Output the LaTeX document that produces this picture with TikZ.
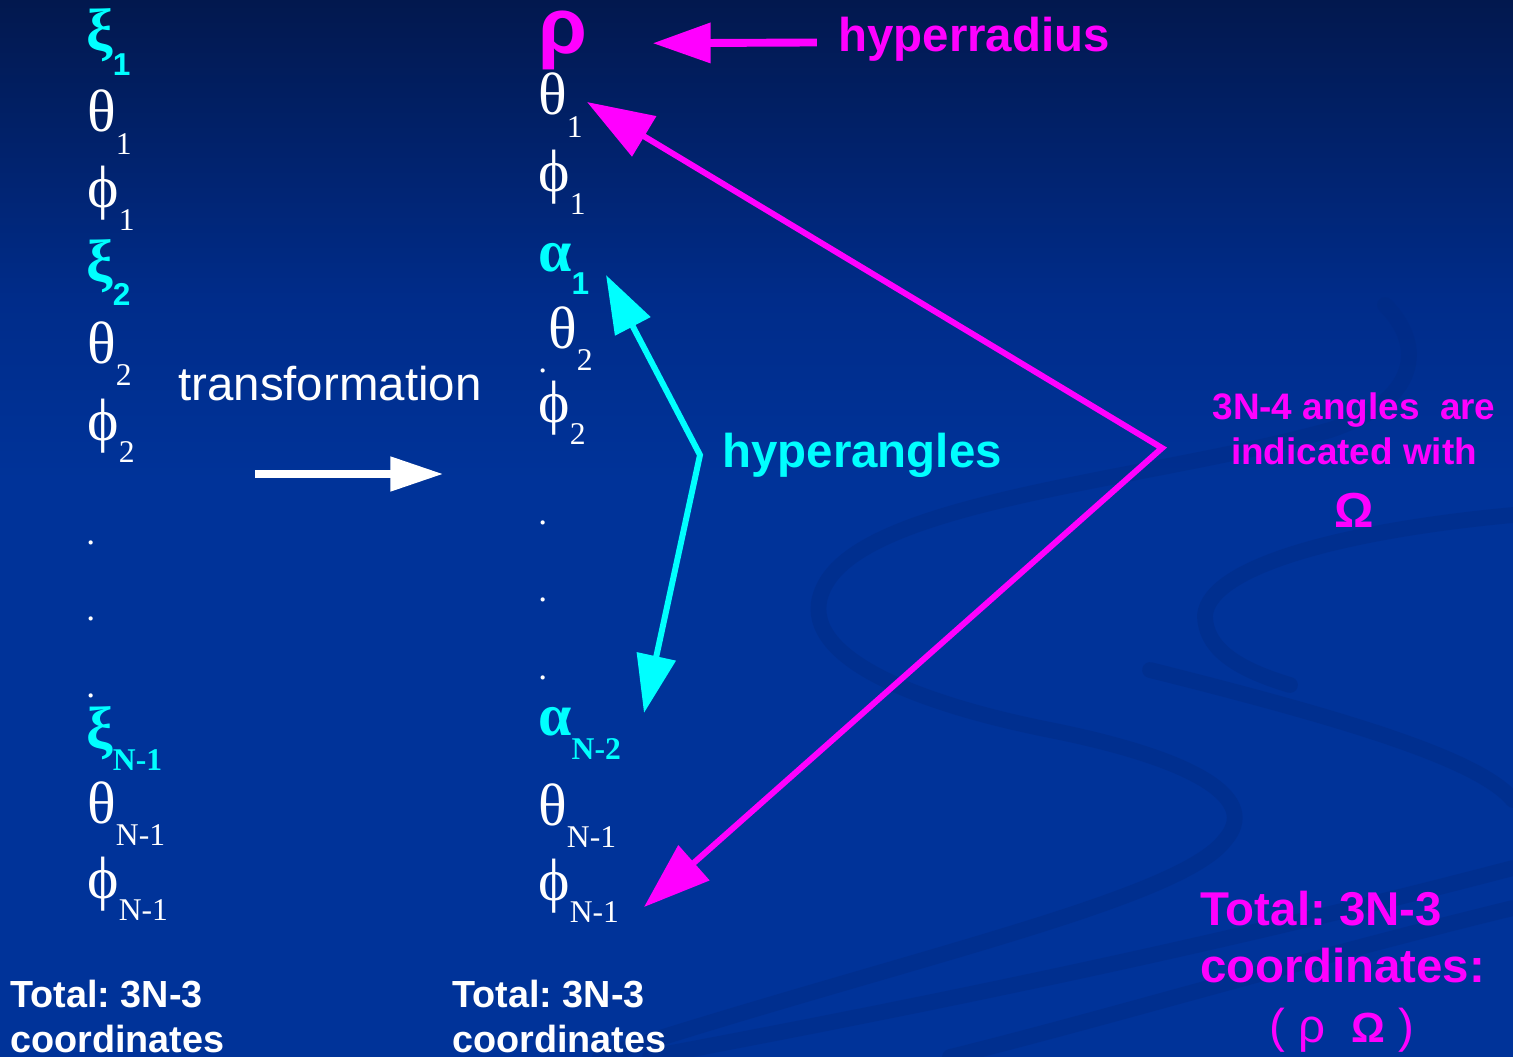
\documentclass[tikz,border=0pt]{standalone}
\usepackage{fontspec}
\setmainfont{Liberation Serif}
\setsansfont{Liberation Sans}
\usepackage{xcolor}
\usepackage{tikz}
\usetikzlibrary{arrows.meta}

\definecolor{bgtop}{RGB}{2,24,78}
\definecolor{bgmid}{RGB}{0,44,138}
\definecolor{bgmain}{RGB}{0,51,153}
\definecolor{swirl}{RGB}{0,42,130}
\definecolor{hicyan}{RGB}{0,255,255}
\definecolor{hipink}{RGB}{255,0,255}

\newcommand{\gsize}{\fontsize{34}{34}\selectfont}
\newcommand{\ssize}{\fontsize{18}{18}\selectfont}
\newcommand{\lowsub}[1]{\raisebox{-13pt}{\ssize #1}}
\newcommand{\xsub}[1]{\raisebox{-14pt}{\ssize\sffamily #1}}

\tikzset{
  greek/.style={anchor=base west, inner sep=0pt, text=white, font=\gsize},
  greekhi/.style={greek, text=hicyan, font=\gsize\bfseries},
  vdot/.style={anchor=base west, inner sep=0pt, text=white, font=\fontsize{20}{20}\selectfont},
  bigtag/.style={anchor=base west, inner sep=0pt, font=\sffamily\bfseries\fontsize{27}{27}\selectfont},
  total/.style={anchor=base west, align=left, inner sep=0pt, font=\sffamily\bfseries\fontsize{21.5}{25.5}\selectfont},
  pinkarrow/.style={draw=hipink, line width=3.4pt, line join=miter,
    {Triangle[length=38pt,width=26pt]}-{Triangle[length=38pt,width=26pt]}},
  cyanarrow/.style={draw=hicyan, line width=3.4pt, line join=miter,
    {Triangle[length=33pt,width=22pt]}-{Triangle[length=33pt,width=22pt]}},
  swirlband/.style={draw=swirl, line width=9pt, opacity=0.4, line cap=round}
}

\begin{document}
\frenchspacing
\begin{tikzpicture}[x=0.02cm, y=-0.02cm]
    \useasboundingbox (0,0) rectangle (1513,1057);
    % background
    \shade[top color=bgtop, bottom color=bgmid] (0,0) rectangle (1513,300);
    \shade[top color=bgmid, bottom color=bgmain] (0,300) rectangle (1513,480);
    \fill[bgmain] (0,480) rectangle (1513,1057);
    \draw[swirlband] (1385,305) .. controls (1425,345) and (1420,400) .. (1330,430)
        .. controls (1150,480) and (870,500) .. (825,585)
        .. controls (790,650) and (900,700) .. (1050,730)
        .. controls (1200,760) and (1260,800) .. (1225,840)
        .. controls (1180,900) and (900,960) .. (600,1057);
    \draw[swirlband] (1513,515) .. controls (1350,530) and (1210,565) .. (1205,615)
        .. controls (1205,650) and (1240,670) .. (1290,685);
    \draw[swirlband] (1150,670) .. controls (1350,720) and (1480,760) .. (1513,800);
    \draw[swirlband] (1513,868) .. controls (1200,950) and (900,1010) .. (650,1057);
    \draw[swirlband] (1513,908) .. controls (1300,960) and (1100,1020) .. (950,1057);

    % cartesian-like set
    \node[greekhi] (lxi1) at (86,51) {ξ\xsub{1}};
    \node[greek] (lth1) at (87,132) {θ\lowsub{1}};
    \node[greek] (lph1) at (87,208) {ϕ\lowsub{1}};
    \node[greekhi] (lxi2) at (86,281) {ξ\xsub{2}};
    \node[greek] (lth2) at (87,363) {θ\lowsub{2}};
    \node[greek] (lph2) at (87,440) {ϕ\lowsub{2}};
    \foreach \y [count=\i] in {544,620,697}
        \node[vdot] (ldot\i) at (86,\y) {.};
    \node[greekhi] (lxiN) at (86,748) {ξ\raisebox{-13pt}{\ssize N-1}};
    \node[greek] (lthN) at (87,823) {θ\lowsub{N-1}};
    \node[greek] (lphN) at (87,898) {ϕ\lowsub{N-1}};

    % hyperspherical set
    \node[bigtag, text=hipink, font=\sffamily\bfseries\fontsize{45}{45}\selectfont] (rho) at (538,54) {ρ};
    \node[greek] (hth1) at (538,115) {θ\lowsub{1}};
    \node[greek] (hph1) at (538,192) {ϕ\lowsub{1}};
    \node[greekhi] (alpha1) at (538,272) {α\raisebox{-13pt}{\ssize\sffamily 1}};
    \node[vdot] (hdot0) at (538,372) {.};
    \node[greek] (hth2) at (548,348) {θ\lowsub{2}};
    \node[greek] (hph2) at (538,422) {ϕ\lowsub{2}};
    \foreach \y [count=\i] in {524,601,679}
        \node[vdot] (hdot\i) at (538,\y) {.};
    \node[greekhi] (alphaN) at (538,735) {α\raisebox{-14pt}{\ssize N-2}};
    \node[greek] (hthN) at (538,825) {θ\lowsub{N-1}};
    \node[greek] (hphN) at (538,900) {ϕ\lowsub{N-1}};

    % labels
    \node[bigtag, text=white, font=\sffamily\fontsize{27}{27}\selectfont] (trans) at (178,400) {transformation};
    \node[bigtag, text=hipink] (hrad) at (838,52) {hyperradius};
    \node[bigtag, text=hicyan] (hang) at (722,467) {hyperangles};
    \node[anchor=base, align=center, inner sep=0pt, text=hipink,
          font=\sffamily\bfseries\fontsize{21}{25.5}\selectfont] (angnote) at (1354,464)
          {3N-4 angles\ \ are\\indicated with};
    \node[anchor=base, inner sep=0pt, text=hipink,
          font=\sffamily\bfseries\fontsize{28}{28}\selectfont] (omega) at (1354,527) {Ω};

    \node[total, text=white] (lefttotal) at (10,1052) {Total: 3N-3\\coordinates};
    \node[total, text=white] (midtotal) at (452,1052) {Total: 3N-3\\coordinates};
    \node[bigtag, text=hipink] (tot1) at (1200,925) {Total: 3N-3};
    \node[bigtag, text=hipink] (tot2) at (1200,982) {coordinates:};
    \node[anchor=base, inner sep=0pt, text=hipink,
          font=\sffamily\fontsize{27}{27}\selectfont] (tot3) at (1342,1042)
          {(\ ρ\ \ {\bfseries\fontsize{24}{24}\selectfont Ω}\ )};

    % connectors
    \coordinate (trfrom) at (255,474);
    \coordinate (trto) at (443,474);
    \draw[white, line width=4pt, -{Triangle[length=30pt,width=19pt]}] (trfrom) -- (trto);

    \draw[hipink, line width=4.5pt, -{Triangle[length=33pt,width=22pt]},
          shorten <=12pt, shorten >=37pt] ([yshift=-1.5pt]hrad.west) -- ([yshift=-1.5pt]rho.east);

    \coordinate (angjoin) at (700,455);
    \coordinate (alphatip) at (606,275);
    \coordinate (alphaNtip) at (644,713);
    \draw[cyanarrow] (alphatip) -- (angjoin) -- (alphaNtip);

    \coordinate (omjoin) at (1162,448);
    \coordinate (thtip) at (587,102);
    \coordinate (phtip) at (644,907);
    \draw[pinkarrow] (thtip) -- (omjoin) -- (phtip);
\end{tikzpicture}
\end{document}
